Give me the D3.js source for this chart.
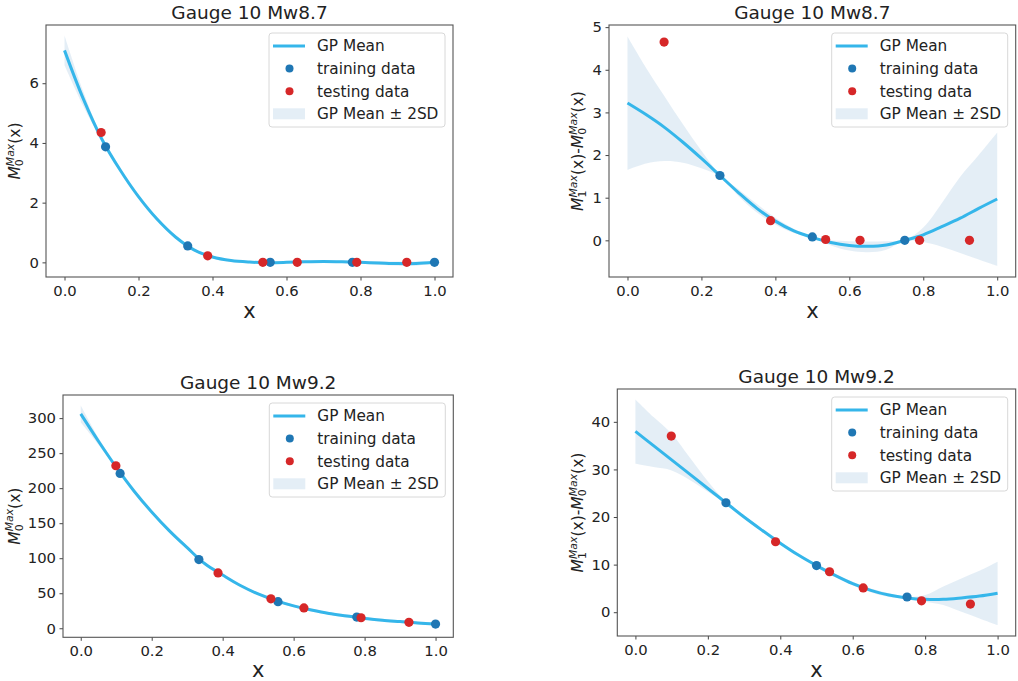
<!DOCTYPE html>
<html>
<head>
<meta charset="utf-8">
<script src="https://cdn.jsdelivr.net/npm/d3@7"></script>
<style>
  html, body { margin: 0; padding: 0; background: #ffffff; }
  svg { display: block; font-family: "DejaVu Sans", sans-serif; }
</style>
</head>
<body>
<svg id="chart" width="1018" height="681"></svg>
<script>
// ---------------- DATA ----------------
const xGrid = [0, 0.05, 0.1, 0.15, 0.2, 0.25, 0.3, 0.35, 0.4, 0.45, 0.5, 0.55, 0.6, 0.65, 0.7, 0.75, 0.8, 0.85, 0.9, 0.95, 1.0];

const xTicks = [0, 0.2, 0.4, 0.6, 0.8, 1.0];
const xTickLabels = ["0.0", "0.2", "0.4", "0.6", "0.8", "1.0"];

const titles = ["Gauge 10 Mw8.7", "Gauge 10 Mw8.7", "Gauge 10 Mw9.2", "Gauge 10 Mw9.2"];
const legendLabels = ["GP Mean", "training data", "testing data", "GP Mean \u00b1 2SD"];

const testX = [0.099, 0.387, 0.536, 0.629, 0.79, 0.925];
const trainX9 = [0.111, 0.333, 0.556, 0.778, 1.0];
const trainX4 = [0.25, 0.5, 0.75];

// Panel 1: M0 Mw8.7
const p1Mean  = [7.1, 5.5, 4.15, 3.1, 2.2, 1.45, 0.85, 0.42, 0.18, 0.06, 0.01, -0.01, 0.0, 0.02, 0.03, 0.02, 0.0, -0.02, -0.04, -0.04, 0.0];
const p1Upper = [7.6, 5.75, 4.22, 3.15, 2.25, 1.5, 0.9, 0.46, 0.22, 0.1, 0.05, 0.03, 0.04, 0.06, 0.07, 0.06, 0.05, 0.04, 0.03, 0.03, 0.04];
const p1Lower = [6.6, 5.25, 4.08, 3.05, 2.15, 1.4, 0.8, 0.38, 0.14, 0.02, -0.03, -0.05, -0.04, -0.02, -0.01, -0.02, -0.05, -0.08, -0.11, -0.11, -0.04];
const p1TrainY = [3.87, 0.55, 0.0, 0.0, 0.0];
const p1TestY  = [4.35, 0.22, 0.0, 0.0, 0.0, 0.0];
const p1YTicks = [0, 2, 4, 6];

// Panel 2: M1 - M0 Mw8.7
const p2Mean  = [3.22, 2.95, 2.65, 2.3, 1.92, 1.52, 1.12, 0.75, 0.45, 0.22, 0.07, -0.05, -0.12, -0.14, -0.11, 0.0, 0.13, 0.32, 0.52, 0.75, 0.97];
const p2Upper = [4.78, 4.05, 3.38, 2.72, 2.1, 1.54, 1.2, 0.85, 0.53, 0.27, 0.08, 0.0, -0.02, -0.03, -0.02, 0.01, 0.3, 0.87, 1.49, 2.0, 2.53];
const p2Lower = [1.65, 1.8, 1.86, 1.82, 1.69, 1.5, 1.04, 0.65, 0.37, 0.17, 0.06, -0.12, -0.24, -0.28, -0.22, -0.01, -0.04, -0.15, -0.3, -0.45, -0.6];
const p2TrainY = [1.52, 0.08, 0.0];
const p2TestY  = [4.65, 0.46, 0.02, 0.0, 0.0, 0.0];
const p2YTicks = [0, 1, 2, 3, 4, 5];

// Panel 3: M0 Mw9.2
const p3Mean  = [306, 267, 230, 196, 166, 139, 115, 92, 76, 61, 49, 39.5, 32, 26, 21, 17.5, 14, 11.5, 9.5, 7.5, 6];
const p3Upper = [318, 272, 232, 198, 168, 141, 117, 94, 78, 63, 51, 41.5, 34, 28, 23, 19.5, 16, 13.5, 11.5, 9.5, 8];
const p3Lower = [294, 262, 228, 194, 164, 137, 113, 90, 74, 59, 47, 37.5, 30, 24, 19, 15.5, 12, 9.5, 7.5, 5.5, 4];
const p3TrainY = [221, 98, 38, 16, 6];
const p3TestY  = [232, 79, 42, 29, 15, 8.5];
const p3YTicks = [0, 50, 100, 150, 200, 250, 300];

// Panel 4: M1 - M0 Mw9.2
const p4Mean  = [38, 35, 32, 29, 26, 23, 20, 17.2, 14.5, 12, 9.8, 7.8, 6.0, 4.6, 3.6, 3.0, 2.7, 2.7, 3.0, 3.4, 4.0];
const p4Upper = [44.7, 41, 37.5, 32.5, 27.5, 23.2, 20.3, 17.5, 14.8, 12.3, 10.0, 8.1, 6.4, 5.0, 4.0, 3.2, 3.6, 5.4, 7.1, 8.7, 10.6];
const p4Lower = [31.2, 30.5, 29.8, 27.8, 25.3, 22.8, 19.7, 16.9, 14.2, 11.7, 9.6, 7.5, 5.6, 4.2, 3.2, 2.8, 2.2, 1.5, 0.1, -1.3, -2.7];
const p4TrainY = [23, 9.8, 3.2];
const p4TestY  = [37, 14.8, 8.5, 5.1, 2.4, 1.7];
const p4YTicks = [0, 10, 20, 30, 40];

// ---------------- STYLE / LAYOUT ----------------
const COLORS = { mean: "#35b6ea", train: "#1f77b4", test: "#d62728", band: "#1f77b4" };

const panels = [
  { title: titles[0], frame: {l: 46, r: 453, t: 25, b: 277}, yDom: [-0.49, 7.95],
    mean: p1Mean, upper: p1Upper, lower: p1Lower, trainX: trainX9, trainY: p1TrainY, testY: p1TestY,
    yTicks: p1YTicks, ylab: "M0", ylabX: 20, xlabY: 318 },
  { title: titles[1], frame: {l: 609, r: 1015.7, t: 25, b: 277}, yDom: [-0.86, 5.05],
    mean: p2Mean, upper: p2Upper, lower: p2Lower, trainX: trainX4, trainY: p2TrainY, testY: p2TestY,
    yTicks: p2YTicks, ylab: "M1M0", ylabX: 583, xlabY: 318 },
  { title: titles[2], frame: {l: 63, r: 453.3, t: 395, b: 637.3}, yDom: [-12.9, 333],
    mean: p3Mean, upper: p3Upper, lower: p3Lower, trainX: trainX9, trainY: p3TrainY, testY: p3TestY,
    yTicks: p3YTicks, ylab: "M0", ylabX: 19.5, xlabY: 677 },
  { title: titles[3], frame: {l: 617.3, r: 1015.7, t: 389, b: 636}, yDom: [-5, 46.9],
    mean: p4Mean, upper: p4Upper, lower: p4Lower, trainX: trainX4, trainY: p4TrainY, testY: p4TestY,
    yTicks: p4YTicks, ylab: "M1M0", ylabX: 583, xlabY: 677 }
];

const svg = d3.select("#chart");

function addM(text, idx, size) {
  // M with stacked subscript idx and superscript "Max"
  const small = size * 0.7;
  text.append("tspan").attr("font-style", "italic").text("M");
  text.append("tspan").attr("font-size", small).attr("dy", size * 0.22).text(idx);
  text.append("tspan").attr("font-size", small).attr("font-style", "italic")
      .attr("dx", -small * 0.636).attr("dy", -size * 0.62).text("Max");
  text.append("tspan").attr("dy", size * 0.40).text("(x)");
}

panels.forEach(p => {
  const f = p.frame;
  const x = d3.scaleLinear().domain([-0.05, 1.05]).range([f.l, f.r]);
  const y = d3.scaleLinear().domain(p.yDom).range([f.b, f.t]);
  const g = svg.append("g");

  // band
  const bandData = xGrid.map((xv, i) => ({x: xv, lo: p.lower[i], hi: p.upper[i]}));
  g.append("path").datum(bandData)
    .attr("d", d3.area().x(d => x(d.x)).y0(d => y(d.lo)).y1(d => y(d.hi)).curve(d3.curveCatmullRom.alpha(0.5)))
    .attr("fill", COLORS.band).attr("fill-opacity", 0.12).attr("stroke", "none");

  // mean
  const meanData = xGrid.map((xv, i) => ({x: xv, y: p.mean[i]}));
  g.append("path").datum(meanData)
    .attr("d", d3.line().x(d => x(d.x)).y(d => y(d.y)).curve(d3.curveCatmullRom.alpha(0.5)))
    .attr("fill", "none").attr("stroke", COLORS.mean).attr("stroke-width", 3);

  // training
  g.selectAll(".tr").data(p.trainX.map((xv, i) => ({x: xv, y: p.trainY[i]}))).enter()
    .append("circle").attr("cx", d => x(d.x)).attr("cy", d => y(d.y)).attr("r", 4.6).attr("fill", COLORS.train);
  // testing
  g.selectAll(".te").data(testX.map((xv, i) => ({x: xv, y: p.testY[i]}))).enter()
    .append("circle").attr("cx", d => x(d.x)).attr("cy", d => y(d.y)).attr("r", 4.6).attr("fill", COLORS.test);

  // axes
  const xAxis = d3.axisBottom(x).tickValues(xTicks).tickFormat((d, i) => xTickLabels[i]).tickSize(3.5).tickPadding(5);
  const gx = g.append("g").attr("transform", `translate(0,${f.b})`).call(xAxis);
  const yAxis = d3.axisLeft(y).tickValues(p.yTicks).tickFormat(d => String(d)).tickSize(3.5).tickPadding(3.5);
  const gy = g.append("g").attr("transform", `translate(${f.l},0)`).call(yAxis);
  [gx, gy].forEach(a => {
    a.select(".domain").remove();
    a.selectAll("line").attr("stroke", "#444");
    a.selectAll("text").attr("font-family", "DejaVu Sans").attr("font-size", 14.8).attr("fill", "#222");
  });

  // frame
  g.append("rect").attr("x", f.l).attr("y", f.t).attr("width", f.r - f.l).attr("height", f.b - f.t)
    .attr("fill", "none").attr("stroke", "#555").attr("stroke-width", 1.1);

  // title
  g.append("text").attr("x", (f.l + f.r) / 2).attr("y", f.t - 6.5).attr("text-anchor", "middle")
    .attr("font-size", 18.5).attr("fill", "#222").text(p.title);

  // x label
  g.append("text").attr("x", (f.l + f.r) / 2).attr("y", p.xlabY).attr("text-anchor", "middle")
    .attr("font-size", 21).attr("fill", "#222").text("x");

  // y label
  const ysize = 15.5;
  const yl = g.append("text").attr("transform", `translate(${p.ylabX},${(f.t + f.b) / 2}) rotate(-90)`)
    .attr("text-anchor", "middle").attr("font-size", ysize).attr("fill", "#222");
  if (p.ylab === "M0") {
    addM(yl, "0", ysize);
  } else {
    addM(yl, "1", ysize);
    yl.append("tspan").text("-");
    addM(yl, "0", ysize);
  }

  // legend
  const lw = 176, lh = 94;
  const lx = f.r - 8 - lw, ly = f.t + 8;
  const lg = g.append("g").attr("transform", `translate(${lx},${ly})`);
  lg.append("rect").attr("width", lw).attr("height", lh).attr("rx", 3)
    .attr("fill", "#ffffff").attr("fill-opacity", 0.85).attr("stroke", "#d8d8d8").attr("stroke-width", 1);
  const rowY = i => 13 + i * 22.6;
  lg.append("line").attr("x1", 4).attr("x2", 36).attr("y1", rowY(0)).attr("y2", rowY(0))
    .attr("stroke", COLORS.mean).attr("stroke-width", 3);
  lg.append("circle").attr("cx", 20.5).attr("cy", rowY(1)).attr("r", 4).attr("fill", COLORS.train);
  lg.append("circle").attr("cx", 20.5).attr("cy", rowY(2)).attr("r", 4).attr("fill", COLORS.test);
  lg.append("rect").attr("x", 4).attr("y", rowY(3) - 5.5).attr("width", 32).attr("height", 11)
    .attr("fill", COLORS.band).attr("fill-opacity", 0.12);
  legendLabels.forEach((t, i) => {
    lg.append("text").attr("x", 48).attr("y", rowY(i) + 5.3).attr("font-size", 15.3).attr("fill", "#222").text(t);
  });
});
</script>
</body>
</html>
